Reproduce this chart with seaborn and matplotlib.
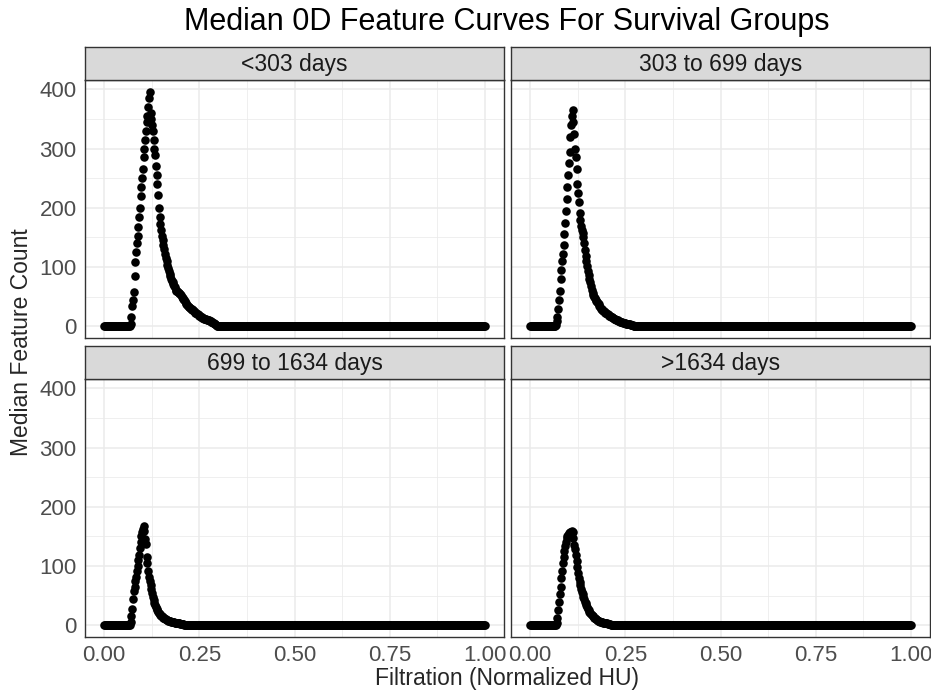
import matplotlib
matplotlib.use("Agg")
import matplotlib.pyplot as plt
from matplotlib.ticker import MultipleLocator, FormatStrFormatter
import numpy as np
import pandas as pd
import seaborn as sns

# filtration grid (normalized HU), step 0.002
filtration = np.round(np.arange(501) * 0.002, 3)
groups = ["<303 days", "303 to 699 days", "699 to 1634 days", ">1634 days"]

# median counts, starting at filtration = 0.068 (zero before and after)
start_idx = 34
lt303 = [0, 3, 15, 35, 45, 58, 85, 108, 125, 140, 152, 168, 185, 200, 220, 235, 250, 265, 285, 300,
         315, 330, 345, 355, 370, 385, 396, 360, 350, 340, 330, 315, 300, 290, 270, 255, 240, 222, 200,
         185, 172, 162, 153, 145, 138, 130, 122, 116, 110, 104, 99, 94, 89, 85, 80, 77, 74, 71, 68, 66,
         62, 60, 59, 58, 57, 56, 54, 52, 50, 48, 46, 44, 42, 40, 38, 36, 34, 33, 32, 31, 30, 29, 28, 27,
         25, 24, 23, 22, 21, 20, 19, 18, 17, 16, 15, 14, 14, 13, 13, 12, 12, 11, 11, 10, 10, 9, 9, 8, 7,
         6, 5, 4, 3, 2, 1, 1]
g303_699 = [2, 9, 15, 30, 45, 60, 80, 95, 110, 122, 138, 155, 175, 195, 215, 235, 255, 275, 295, 320,
            340, 355, 365, 345, 325, 300, 285, 265, 240, 225, 210, 192, 180, 170, 163, 158, 150, 140, 128,
            118, 110, 102, 94, 86, 80, 74, 68, 62, 57, 53, 50, 47, 45, 43, 41, 39, 37, 34, 32, 30, 29, 28,
            26, 25, 24, 23, 22, 21, 20, 19, 18, 17, 16, 15, 15, 14, 13, 12, 12, 11, 11, 10, 9, 9, 8, 8, 7,
            7, 6, 6, 5, 5, 4, 4, 4, 3, 3, 3, 2, 2, 2, 2, 1, 1, 1, 1, 1]
g699_1634 = [0, 5, 15, 28, 45, 58, 65, 75, 82, 92, 100, 110, 118, 130, 140, 150, 157, 163, 167, 160, 145,
             138, 115, 105, 92, 82, 75, 68, 62, 55, 48, 42, 38, 34, 31, 28, 25, 23, 21, 19, 18, 16, 15, 14,
             13, 12, 11, 10, 9, 9, 8, 8, 7, 7, 6, 6, 5, 5, 5, 4, 4, 4, 3, 3, 3, 3, 2, 2, 2, 2, 2, 1, 1, 1,
             1, 1, 1, 1, 1, 1, 1, 1]
gt1634 = [0, 3, 12, 25, 40, 52, 65, 80, 92, 105, 115, 125, 133, 140, 147, 150, 153, 155, 157, 155, 158,
          160, 157, 148, 135, 128, 118, 108, 98, 88, 80, 73, 68, 62, 57, 52, 48, 44, 40, 37, 34, 31, 28,
          26, 23, 21, 19, 18, 16, 15, 13, 12, 11, 10, 9, 8, 8, 7, 6, 6, 5, 5, 4, 4, 4, 3, 3, 3, 2, 2, 2,
          2, 1, 1, 1, 1, 1, 1, 1, 1, 1, 1, 1, 1, 1, 1, 1]


def full_curve(vals):
    return [0] * start_idx + vals + [0] * (len(filtration) - start_idx - len(vals))


frames = []
for name, vals in zip(groups, [lt303, g303_699, g699_1634, gt1634]):
    frames.append(pd.DataFrame({"filtration": filtration, "count": full_curve(vals), "group": name}))
df = pd.concat(frames, ignore_index=True)

sns.set_style("white")
plt.rcParams["font.family"] = ["Liberation Sans", "DejaVu Sans"]

W, H = 931, 692
fig = plt.figure(figsize=(W / 100, H / 100), dpi=100)

# panel boxes in pixels: (left, top)
panel_w, panel_h, strip_h = 419, 258, 33
boxes = [(85, 80), (511, 80), (85, 379), (511, 379)]

for i, (name, (lx, ty)) in enumerate(zip(groups, boxes)):
    ax = fig.add_axes([lx / W, (H - ty - panel_h) / H, panel_w / W, panel_h / H])
    sub = df[df["group"] == name]
    sns.scatterplot(data=sub, x="filtration", y="count", ax=ax, color="black", s=38,
                    linewidth=0, zorder=3)
    ax.set_xlim(-0.05, 1.05)
    ax.set_ylim(-19.8, 415.8)
    ax.xaxis.set_major_locator(MultipleLocator(0.25))
    ax.xaxis.set_minor_locator(MultipleLocator(0.125))
    ax.xaxis.set_major_formatter(FormatStrFormatter("%.2f"))
    ax.yaxis.set_major_locator(MultipleLocator(100))
    ax.yaxis.set_minor_locator(MultipleLocator(50))
    ax.grid(True, which="major", color="#EBEBEB", linewidth=1.1, zorder=0)
    ax.grid(True, which="minor", color="#EBEBEB", linewidth=0.55, zorder=0)
    ax.set_axisbelow(True)
    for sp in ax.spines.values():
        sp.set_color("#333333")
        sp.set_linewidth(1.0)
    ax.tick_params(which="minor", length=0)
    ax.tick_params(which="major", length=4, width=1, color="#333333",
                   labelsize=16, labelcolor="#4D4D4D", pad=2)
    ax.set_xlabel("")
    ax.set_ylabel("")
    if i in (0, 1):
        ax.tick_params(axis="x", which="major", length=0, labelbottom=False)
    if i in (1, 3):
        ax.tick_params(axis="y", which="major", length=0, labelleft=False)

    # facet strip
    sax = fig.add_axes([lx / W, (H - ty) / H, panel_w / W, strip_h / H])
    sax.set_facecolor("#D9D9D9")
    sax.set_xticks([])
    sax.set_yticks([])
    for sp in sax.spines.values():
        sp.set_color("#333333")
        sp.set_linewidth(1.0)
    sax.text(0.5, 0.48, name, ha="center", va="center", fontsize=16.5, color="#1A1A1A",
             transform=sax.transAxes)

fig.text(507 / W, 1 - 22 / H, "Median 0D Feature Curves For Survival Groups",
         ha="center", va="center", fontsize=22, color="black")
fig.text(507 / W, 1 - 678 / H, "Filtration (Normalized HU)", ha="center", va="center", fontsize=16.5)
fig.text(22 / W, 1 - 342 / H, "Median Feature Count", ha="center", va="center",
         rotation=90, fontsize=16.5)

fig.savefig("out.png", dpi=100)
